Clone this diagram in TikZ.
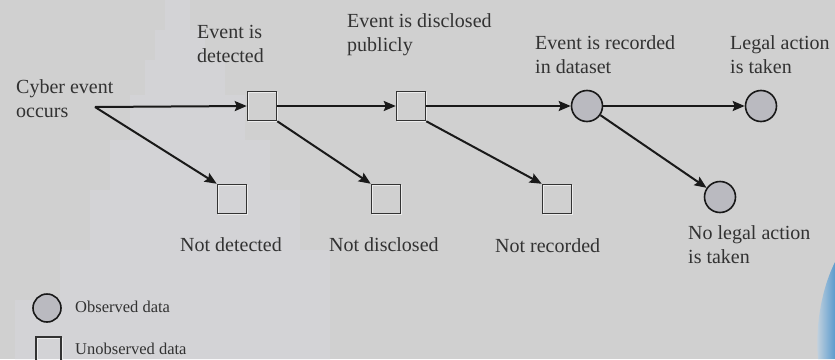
\documentclass[tikz,border=0pt]{standalone}
\usepackage{fontspec}
\setmainfont{Liberation Serif}
\usetikzlibrary{arrows.meta}
\definecolor{bgc}{RGB}{208,208,208}
\definecolor{wmc}{RGB}{211,211,214}
\definecolor{txt}{RGB}{50,50,50}
\definecolor{obs}{RGB}{186,186,192}
\definecolor{swA}{RGB}{205,215,224}
\definecolor{swB}{RGB}{90,155,205}
\tikzset{
  unobs/.style={draw=black!80, line width=1.5pt, minimum size=29pt, inner sep=0pt, shape=rectangle,
    preaction={draw=white!85!gray, line width=1pt, transform canvas={shift={(1.2pt,-1.2pt)}}}},
  obsnode/.style={draw=black!90, line width=1.6pt, fill=obs, circle, minimum size=31pt, inner sep=0pt},
  lbl/.style={anchor=north west, inner sep=0pt, align=left, text=txt, font=\fontsize{20}{24.5}\selectfont},
  leg/.style={anchor=north west, inner sep=0pt, text=txt, font=\fontsize{16.5}{20}\selectfont},
  conn/.style={line width=2pt, draw=black!90, -{Stealth[length=12pt,width=10pt,inset=2pt]}}
}
\begin{document}
\begin{tikzpicture}[x=1pt,y=-1pt]
\clip (0,0) rectangle (835,359);
\fill[bgc] (0,0) rectangle (835,359);
% faint watermark
\fill[wmc] (165,0) -- (190,0) -- (190,30) -- (205,30) -- (205,60) -- (225,60) -- (225,95) -- (245,95)
  -- (245,140) -- (270,140) -- (270,190) -- (300,190) -- (300,250) -- (330,250) -- (330,359)
  -- (15,359) -- (15,300) -- (60,300) -- (60,250) -- (90,250) -- (90,190) -- (110,190) -- (110,140)
  -- (130,140) -- (130,95) -- (145,95) -- (145,60) -- (155,60) -- (155,30) -- (165,30) -- cycle;
% blue swoosh
\shade[left color=swA, right color=swB] (835,262) .. controls (822,288) and (815,325) .. (818,359) -- (835,359) -- cycle;

% nodes
\coordinate (start) at (95,107);
\node[unobs] (det) at (262,106) {};
\node[unobs] (dis) at (411,106) {};
\node[obsnode] (rec) at (587,106) {};
\node[obsnode] (leg) at (761,106) {};
\node[unobs] (ndet) at (232,199) {};
\node[unobs] (ndis) at (386,199) {};
\node[unobs] (nrec) at (557,199) {};
\node[obsnode] (nleg) at (720,197) {};

% labels
\node[lbl] (tcyb) at (16,79) {Cyber event\\occurs};
\node[lbl] (tdet) at (197,25) {Event is\\detected};
\node[lbl] (tdis) at (347,13) {Event is disclosed\\publicly};
\node[lbl] (trec) at (535,35) {Event is recorded\\in dataset};
\node[lbl] (tleg) at (730,35) {Legal action\\is taken};
\node[lbl] (tndet) at (180,237) {Not detected};
\node[lbl] (tndis) at (329,237) {Not disclosed};
\node[lbl] (tnrec) at (495,238) {Not recorded};
\node[lbl] (tnleg) at (688,225) {No legal action\\is taken};

% connectors
\draw[conn] (start) -- (det.west);
\draw[conn] (start) -- (ndet.north west);
\draw[conn] (det.east) -- (dis.west);
\draw[conn] (det.south east) -- (ndis.north west);
\draw[conn] (dis.east) -- (rec.west);
\draw[conn] (dis.south east) -- (nrec.north west);
\draw[conn] (rec.east) -- (leg.west);
\draw[conn] (rec) -- (nleg);

% legend
\node[obsnode, minimum size=28pt] (lobs) at (47,308) {};
\node[unobs, minimum size=25pt] (lun) at (48.5,349.5) {};
\node[leg] (tobs) at (75,301) {Observed data};
\node[leg] (tun) at (75,343) {Unobserved data};
\end{tikzpicture}
\end{document}
